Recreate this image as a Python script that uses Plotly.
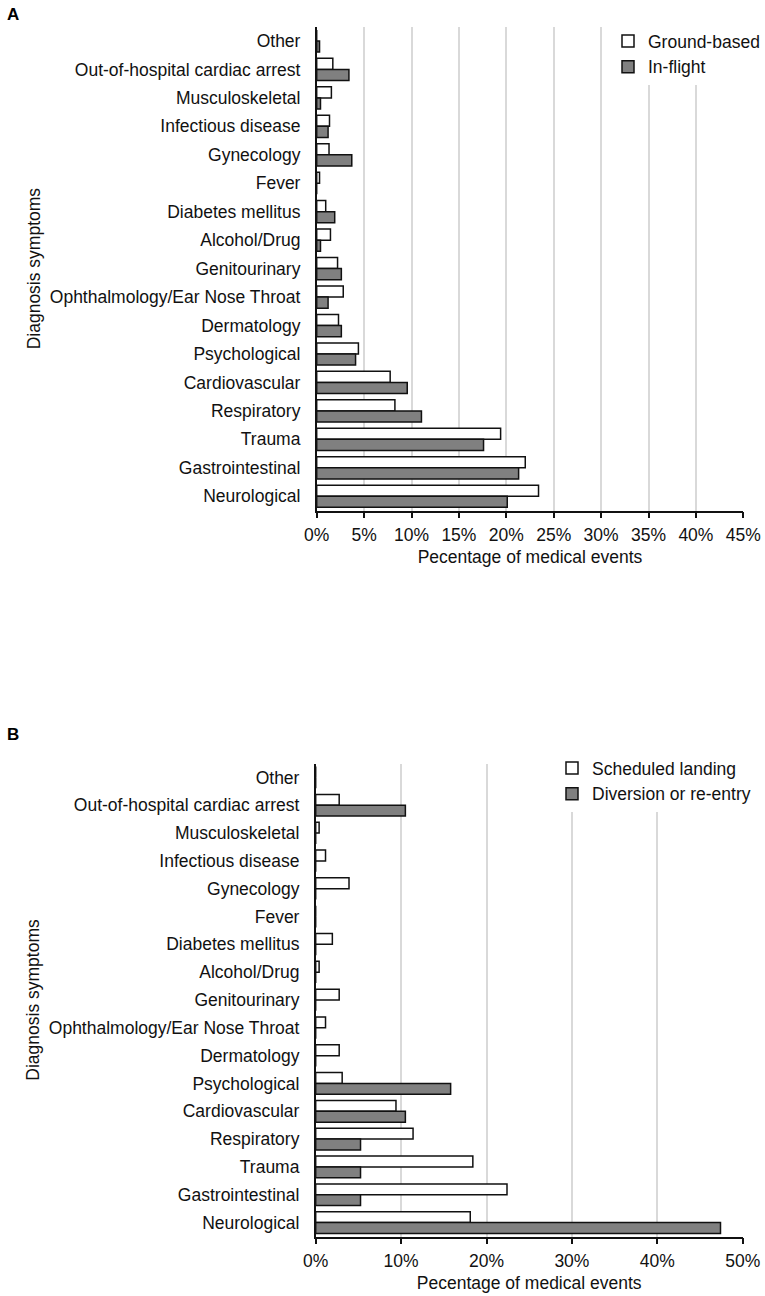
import plotly.graph_objects as go

# ---- data (percent of medical events) ----
categories = ["Other", "Out-of-hospital cardiac arrest", "Musculoskeletal", "Infectious disease",
              "Gynecology", "Fever", "Diabetes mellitus", "Alcohol/Drug", "Genitourinary",
              "Ophthalmology/Ear Nose Throat", "Dermatology", "Psychological", "Cardiovascular",
              "Respiratory", "Trauma", "Gastrointestinal", "Neurological"]

ground_based = [0, 1.7, 1.55, 1.35, 1.3, 0.3, 0.95, 1.45, 2.2, 2.8, 2.3, 4.4, 7.75, 8.25, 19.4, 22.0, 23.4]
in_flight = [0.3, 3.4, 0.4, 1.2, 3.7, 0, 1.9, 0.4, 2.6, 1.2, 2.6, 4.1, 9.55, 11.05, 17.6, 21.3, 20.1]

scheduled_landing = [0, 2.75, 0.4, 1.15, 3.9, 0, 1.95, 0.4, 2.75, 1.15, 2.75, 3.1, 9.4, 11.4, 18.4, 22.4, 18.1]
diversion_reentry = [0, 10.5, 0, 0, 0, 0, 0, 0, 0, 0, 0, 15.8, 10.5, 5.25, 5.25, 5.25, 47.4]

ticks_a = [0, 5, 10, 15, 20, 25, 30, 35, 40, 45]
ticks_b = [0, 10, 20, 30, 40, 50]
ticklabels_a = [f"{v}%" for v in ticks_a]
ticklabels_b = [f"{v}%" for v in ticks_b]

FONT = "Liberation Sans, Arial, sans-serif"
FS = 17.5
TXT = "#111111"
WHITE = "#ffffff"
GRAY = "#808080"
EDGE = "#111111"

W, H = 765, 1296

def px_x(v):
    return v / W

def px_y(v):
    return 1 - v / H

fig = go.Figure()

fig.add_trace(go.Bar(y=categories, x=ground_based, orientation="h", name="Ground-based",
                     marker=dict(color=WHITE, line=dict(color=EDGE, width=1.5)),
                     xaxis="x", yaxis="y", legend="legend"))
fig.add_trace(go.Bar(y=categories, x=in_flight, orientation="h", name="In-flight",
                     marker=dict(color=GRAY, line=dict(color=EDGE, width=1.5)),
                     xaxis="x", yaxis="y", legend="legend"))
fig.add_trace(go.Bar(y=categories, x=scheduled_landing, orientation="h", name="Scheduled landing",
                     marker=dict(color=WHITE, line=dict(color=EDGE, width=1.5)),
                     xaxis="x2", yaxis="y2", legend="legend2"))
fig.add_trace(go.Bar(y=categories, x=diversion_reentry, orientation="h", name="Diversion or re-entry",
                     marker=dict(color=GRAY, line=dict(color=EDGE, width=1.5)),
                     xaxis="x2", yaxis="y2", legend="legend2"))

xcommon = dict(showgrid=True, gridcolor="#d9d9d9", gridwidth=1.5, zeroline=False,
               showline=True, linecolor="#111111", linewidth=1.5,
               ticks="outside", ticklen=6, tickwidth=1.5, tickcolor="#111111",
               tickfont=dict(family=FONT, size=FS, color=TXT),
               ticklabelstandoff=2, fixedrange=True)
ycommon = dict(showgrid=False, zeroline=False, showline=True, linecolor="#111111", linewidth=1.5,
               ticks="outside", ticklen=11, tickcolor="rgba(0,0,0,0)",
               tickfont=dict(family=FONT, size=FS, color=TXT),
               range=[len(categories) - 0.5, -0.5], type="category", fixedrange=True)

fig.update_layout(
    width=W, height=H,
    margin=dict(l=0, r=0, t=0, b=0, autoexpand=False),
    paper_bgcolor="white", plot_bgcolor="white",
    font=dict(family=FONT, size=FS, color=TXT),
    barmode="group", bargap=0.22, bargroupgap=0,
    showlegend=True,
    xaxis=dict(**xcommon, domain=[px_x(316.7), px_x(743.3)], anchor="y",
               range=[0, 45], tickmode="array", tickvals=ticks_a, ticktext=ticklabels_a,
               title=dict(text="Pecentage of medical events", standoff=6,
                          font=dict(family=FONT, size=FS, color=TXT))),
    yaxis=dict(**ycommon, domain=[px_y(510.5), px_y(26.75)], anchor="x",
               title=dict(text="Diagnosis symptoms", standoff=5,
                          font=dict(family=FONT, size=FS, color=TXT))),
    xaxis2=dict(**xcommon, domain=[px_x(315.7), px_x(742.7)], anchor="y2",
                range=[0, 50], tickmode="array", tickvals=ticks_b, ticktext=ticklabels_b,
                title=dict(text="Pecentage of medical events", standoff=6,
                           font=dict(family=FONT, size=FS, color=TXT))),
    yaxis2=dict(**ycommon, domain=[px_y(1236.5), px_y(763.5)], anchor="x2",
                title=dict(text="Diagnosis symptoms", standoff=5,
                           font=dict(family=FONT, size=FS, color=TXT))),
    legend=dict(x=1, y=px_y(23), xanchor="right", yanchor="top",
                bgcolor="white", borderwidth=0,
                font=dict(family=FONT, size=FS, color=TXT)),
    legend2=dict(x=px_x(756), y=px_y(750), xanchor="right", yanchor="top",
                 bgcolor="white", borderwidth=0,
                 font=dict(family=FONT, size=FS, color=TXT)),
    annotations=[
        dict(text="<b>A</b>", x=px_x(5), y=px_y(14), xref="paper", yref="paper",
             xanchor="left", yanchor="middle", showarrow=False,
             font=dict(family=FONT, size=17, color="#000000")),
        dict(text="<b>B</b>", x=px_x(5), y=px_y(734), xref="paper", yref="paper",
             xanchor="left", yanchor="middle", showarrow=False,
             font=dict(family=FONT, size=17, color="#000000")),
    ],
)

fig.write_html("out.html", config={"displayModeBar": False},
               post_script="document.body.style.margin='0';document.body.style.padding='0';")
